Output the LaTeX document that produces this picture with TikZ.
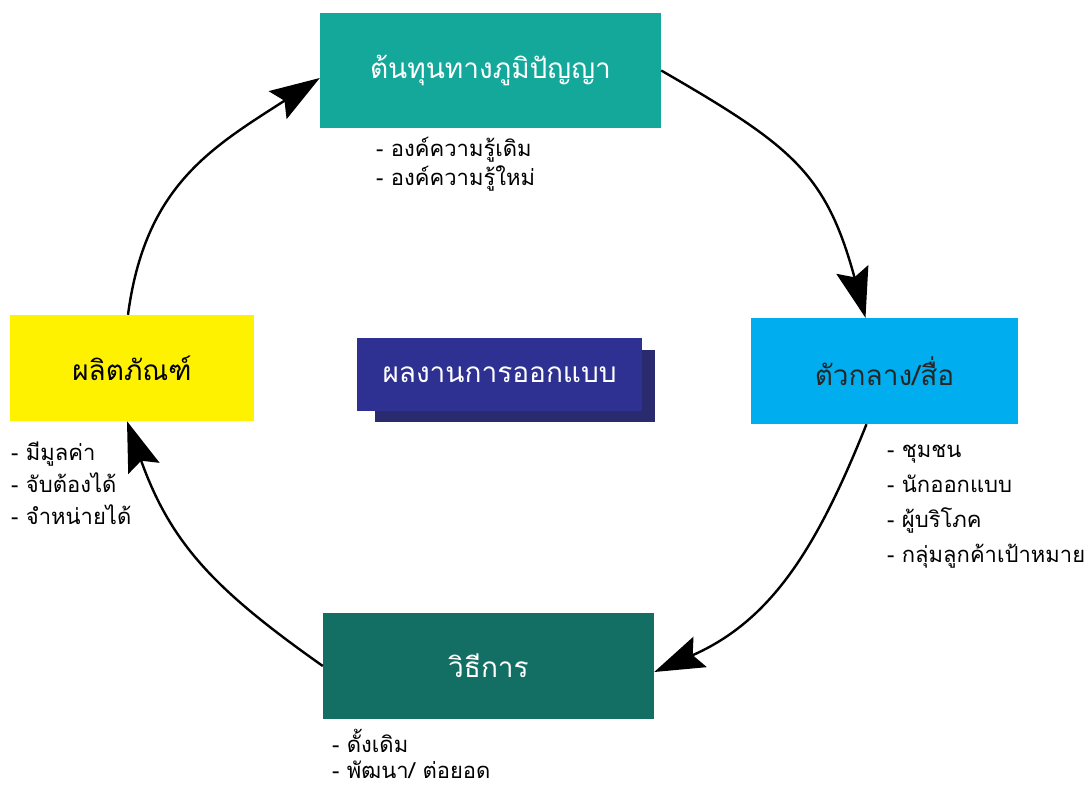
\documentclass[tikz,border=0pt]{standalone}
\usepackage{fontspec}
\newfontfamily\thai[Script=Thai]{Loma}
\usetikzlibrary{arrows.meta}
\definecolor{cteal}{RGB}{20,168,155}
\definecolor{ccyan}{RGB}{0,174,239}
\definecolor{cgreen}{RGB}{19,111,99}
\definecolor{cyellow}{RGB}{255,242,0}
\definecolor{cblue}{RGB}{46,49,146}
\definecolor{cshadow}{RGB}{42,42,110}
\begin{document}
\begin{tikzpicture}[x=1pt,y=-1pt,
  box/.style={rectangle, inner sep=0pt, text=white, font=\thai\fontsize{28}{32}\selectfont},
  item/.style={anchor=base west, inner sep=0pt, font=\thai\fontsize{22}{28}\selectfont},
  arr/.style={line width=2.4pt, -{Stealth[length=50pt,width=33pt,inset=8pt]}}]
\useasboundingbox (0,0) rectangle (1089,789);
% boxes
\node[box, fill=cteal, minimum width=341pt, minimum height=115pt] (top) at (490.5,70.5) {ต้นทุนทางภูมิปัญญา};
\node[box, fill=ccyan, text=black!85, minimum width=267pt, minimum height=106pt] (right) at (884.5,371) {ตัวกลาง/สื่อ};
\node[box, fill=cgreen, minimum width=331pt, minimum height=106pt] (bottom) at (488.5,666) {วิธีการ};
\node[box, fill=cyellow, text=black, minimum width=244pt, minimum height=106pt] (left) at (132,368) {ผลิตภัณฑ์};
\node[fill=cshadow, minimum width=280pt, minimum height=72pt, inner sep=0pt] (shadow) at (515,386) {};
\node[box, fill=cblue, minimum width=285pt, minimum height=73pt] (center) at (499.5,374.5) {ผลงานการออกแบบ};
% lists
\node[item] (t1) at (376,157) {- องค์ความรู้เดิม};
\node[item] (t2) at (376,185) {- องค์ความรู้ใหม่};
\node[item] (r1) at (887,457) {- ชุมชน};
\node[item] (r2) at (887,492) {- นักออกแบบ};
\node[item] (r3) at (887,527) {- ผู้บริโภค};
\node[item] (r4) at (887,562) {- กลุ่มลูกค้าเป้าหมาย};
\node[item] (b1) at (332,752) {- ดั้งเดิม};
\node[item] (b2) at (332,778) {- พัฒนา/ ต่อยอด};
\node[item] (y1) at (11,460) {- มีมูลค่า};
\node[item] (y2) at (11,492) {- จับต้องได้};
\node[item] (y3) at (11,524) {- จำหน่ายได้};
% arrows
\draw[arr] (top.east) .. controls (792,146) and (826,173) .. ([xshift=-19pt]right.north);
\draw[arr] ([xshift=-18pt]right.south) .. controls (818,545) and (773,620) .. ([yshift=-6pt]bottom.east);
\draw[arr] (bottom.west) .. controls (215,590) and (171,544) .. ([xshift=-5pt]left.south);
\draw[arr] ([xshift=-4pt]left.north) .. controls (145,186) and (211,148) .. ([yshift=-7.5pt]top.west);
\end{tikzpicture}
\end{document}
